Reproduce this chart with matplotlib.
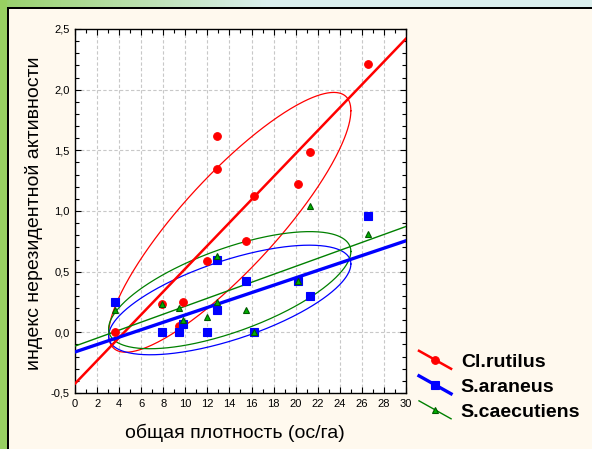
import numpy as np
import matplotlib
matplotlib.use("Agg")
import matplotlib.pyplot as plt
from matplotlib.lines import Line2D
from matplotlib.patches import Rectangle
from matplotlib.legend_handler import HandlerBase
from matplotlib.ticker import MultipleLocator, FuncFormatter

plt.rcParams['font.family'] = ['Liberation Sans', 'DejaVu Sans']

# ---- data ----
x_density = [3.6, 7.9, 9.4, 9.8, 12.0, 12.9, 12.9, 15.5, 16.2, 20.2, 21.3, 26.6]
y_rutilus = [0.00, 0.23, 0.05, 0.25, 0.59, 1.62, 1.35, 0.75, 1.12, 1.22, 1.49, 2.21]
y_araneus = [0.25, 0.00, 0.00, 0.07, 0.00, 0.60, 0.18, 0.42, 0.00, 0.42, 0.30, 0.96]
y_caecutiens = [0.18, 0.23, 0.20, 0.10, 0.13, 0.63, 0.25, 0.18, 0.00, 0.42, 1.04, 0.81]
species = ['Cl.rutilus', 'S.araneus', 'S.caecutiens']
x_ticks = list(range(0, 31, 2))
y_ticks = [-0.5, 0.0, 0.5, 1.0, 1.5, 2.0, 2.5]

W, H = 592, 449
fig = plt.figure(figsize=(W / 100, H / 100), dpi=100)
fig.patch.set_facecolor('#FFF9EE')

# decorative frame
grad_ax = fig.add_axes([0, 1 - 7.5 / H, 1, 7.5 / H])
grad = np.linspace(0, 1, 256)[None, :]
c0 = np.array([0.60, 0.82, 0.42])
c1 = np.array([0.86, 0.94, 0.93])
t = np.clip(grad / 0.45, 0, 1)
img = (c0[None, None, :] * (1 - t[..., None]) + c1[None, None, :] * t[..., None])
grad_ax.imshow(img, aspect='auto', extent=[0, 1, 0, 1])
grad_ax.set_axis_off()
fig.add_artist(Rectangle((0, 0), 6.5 / W, 1, transform=fig.transFigure,
                         facecolor='#98D062', edgecolor='none', zorder=1))
fig.add_artist(Rectangle((6.5 / W, 0), 2 / W, 1 - 7 / H, transform=fig.transFigure,
                         facecolor='black', edgecolor='none', zorder=2))
fig.add_artist(Rectangle((6.5 / W, 1 - 9 / H), 1 - 6.5 / W, 2 / H, transform=fig.transFigure,
                         facecolor='black', edgecolor='none', zorder=2))

ax = fig.add_axes([75 / W, 1 - 393 / H, (406 - 75) / W, (393 - 29) / H])
ax.set_facecolor('white')
ax.set_xlim(0, 30)
ax.set_ylim(-0.5, 2.5)

styles = [
    dict(color='#FF0000', lw=1.8, marker='o', ms=5.5, mfc='#FF0000', mec='#FF0000'),
    dict(color='#0000FF', lw=2.4, marker='s', ms=5.2, mfc='#0000FF', mec='#0000FF'),
    dict(color='#008000', lw=1.0, marker='^', ms=4.3, mfc='#00B000', mec='#005A00'),
]
kx, ky = 1.72, 1.52

x = np.array(x_density)
xs_line = np.linspace(0, 30, 100)
handles = []
for ys, st, name in zip([y_rutilus, y_araneus, y_caecutiens], styles, species):
    y = np.array(ys)
    # regression line
    b, a = np.polyfit(x, y, 1)
    ax.plot(xs_line, a + b * xs_line, color=st['color'], lw=st['lw'], zorder=3)
    # ellipse
    mx, my = x.mean(), y.mean()
    sx, sy = x.std(ddof=1), y.std(ddof=1)
    r = np.corrcoef(x, y)[0, 1]
    phi = np.arccos(r)
    tt = np.linspace(0, 2 * np.pi, 400)
    ex = mx + kx * sx * np.cos(tt)
    ey = my + ky * sy * np.cos(tt + phi)
    ax.plot(ex, ey, color=st['color'], lw=0.9, zorder=2)
    # points
    ax.plot(x, y, ls='none', marker=st['marker'], ms=st['ms'], mfc=st['mfc'],
            mec=st['mec'], mew=0.8, zorder=4)
    handles.append(Line2D([], [], color=st['color'], lw=st['lw'], marker=st['marker'],
                          ms=st['ms'], mfc=st['mfc'], mec=st['mec'], mew=0.8))

ax.xaxis.set_major_locator(MultipleLocator(2))
ax.xaxis.set_minor_locator(MultipleLocator(1))
ax.yaxis.set_major_locator(MultipleLocator(0.5))
ax.yaxis.set_minor_locator(MultipleLocator(0.1))
ax.set_xticks(x_ticks)
ax.set_yticks(y_ticks)
ax.yaxis.set_major_formatter(FuncFormatter(lambda v, p: f"{v:.1f}".replace('.', ',')))
ax.xaxis.set_major_formatter(FuncFormatter(lambda v, p: f"{v:.0f}"))
ax.tick_params(which='both', direction='in', top=True, right=True, width=0.8,
               labelsize=8, colors='black')
ax.tick_params(which='major', length=4, pad=4)
ax.tick_params(which='minor', length=3)
ax.grid(True, which='major', color='#C8C8C8', lw=0.8, ls=(0, (3, 2)))
ax.set_axisbelow(True)
for s in ax.spines.values():
    s.set_linewidth(1.0)
    s.set_color('black')

fig.text(34 / W, 1 - 213 / H, 'индекс нерезидентной активности', rotation=90,
         ha='center', va='center', fontsize=14)
fig.text(234.5 / W, 1 - 433 / H, 'общая плотность (ос/га)', ha='center', va='center',
         fontsize=14)


class DiagHandler(HandlerBase):
    def create_artists(self, legend, orig_handle, xdescent, ydescent, width, height,
                       fontsize, trans):
        x0, x1 = -xdescent, -xdescent + width
        yc = -ydescent + height / 2
        d = 0.28 * width
        ln = Line2D([x0, x1], [yc + d, yc - d], color=orig_handle.get_color(),
                    lw=orig_handle.get_linewidth(), transform=trans)
        mk = Line2D([(x0 + x1) / 2], [yc], ls='none',
                    marker=orig_handle.get_marker(), ms=orig_handle.get_markersize(),
                    mfc=orig_handle.get_markerfacecolor(),
                    mec=orig_handle.get_markeredgecolor(), mew=0.8, transform=trans)
        return [ln, mk]


leg = fig.legend(handles, species, loc='upper left',
                 bbox_to_anchor=(419 / W, 1 - 353 / H), frameon=False,
                 handler_map={Line2D: DiagHandler()}, handlelength=1.65,
                 handletextpad=0.5, labelspacing=0.38, borderpad=0, borderaxespad=0,
                 prop=dict(weight='bold', size=14))

fig.savefig('out.png', dpi=100, facecolor=fig.get_facecolor())
